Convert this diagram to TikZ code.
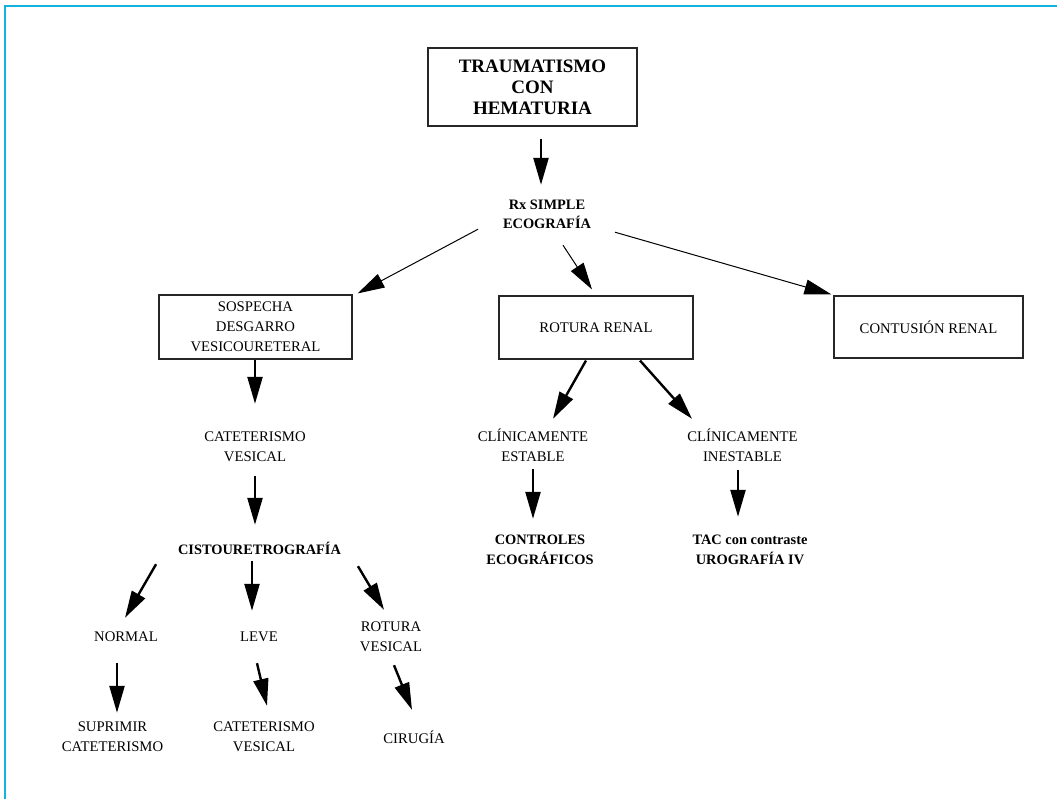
\documentclass[tikz,border=0pt]{standalone}
\usepackage{fontspec}
\setmainfont{Liberation Serif}
\usetikzlibrary{arrows.meta,calc}
\definecolor{framecyan}{RGB}{20,178,222}

\begin{document}
\begin{tikzpicture}[x=1pt,y=-1pt,
  bx/.style={draw=black!85,line width=1.1pt,inner sep=0pt,align=center,font=\fontsize{14.7}{20}\selectfont},
  lbl/.style={inner sep=0pt,minimum height=40pt,align=center,font=\fontsize{14.7}{20}\selectfont},
  blbl/.style={lbl,font=\bfseries\fontsize{14.4}{19.5}\selectfont},
  arr/.style={line width=2.4pt,-{Triangle[length=27pt,width=15pt]}},
  tarr/.style={line width=1pt,-{Triangle[length=27pt,width=15pt]}}]
\path[use as bounding box] (0,0) rectangle (1057,799);
\draw[framecyan,line width=2pt] (5,799) -- (5,6) -- (1057,6);

\node[bx,minimum width=209pt,minimum height=78pt,font=\bfseries\fontsize{19}{21}\selectfont] (trauma) at (532.5,87) {TRAUMATISMO\\CON\\HEMATURIA};
\node[blbl] (rx) at (547,214.5) {Rx SIMPLE\\ECOGRAFÍA};
\node[bx,minimum width=193pt,minimum height=64pt] (sospecha) at (255.5,327) {SOSPECHA\\DESGARRO\\VESICOURETERAL};
\node[bx,minimum width=194pt,minimum height=63pt] (rotura) at (596,327.5) {ROTURA RENAL};
\node[bx,minimum width=189pt,minimum height=62pt] (contusion) at (928.5,327) {CONTUSIÓN RENAL};

\node[lbl] (cateter) at (255,447) {CATETERISMO\\VESICAL};
\node[blbl] (cisto) at (259.5,548) {CISTOURETROGRAFÍA};
\node[lbl] (normal) at (126,637) {NORMAL};
\node[lbl] (leve) at (259,637) {LEVE};
\node[lbl] (rvesical) at (391,637) {ROTURA\\VESICAL};
\node[lbl] (suprimir) at (112.5,737) {SUPRIMIR\\CATETERISMO};
\node[lbl] (cateter2) at (264,737) {CATETERISMO\\VESICAL};
\node[lbl] (cirugia) at (414,737) {CIRUGÍA};

\node[lbl] (estable) at (533,445.5) {CLÍNICAMENTE\\ESTABLE};
\node[lbl] (inestable) at (742.5,445.5) {CLÍNICAMENTE\\INESTABLE};
\node[blbl] (controles) at (540,550) {CONTROLES\\ECOGRÁFICOS};
\node[blbl] (tac) at (750,550) {TAC con contraste\\UROGRAFÍA IV};

\draw[arr] ($(trauma.south)+(8.5,12)$) -- ($(rx.north)+(-6,-9.5)$);
\draw[tarr] ($(rx.south west)+(-24.75,-5.5)$) -- ($(sospecha.north east)+(5,-1)$);
\draw[tarr] ($(rx.south)+(16,10.5)$) -- ($(rotura.north)+(-4,-6)$);
\draw[tarr] ($(rx.south east)+(23.75,-2.5)$) -- ($(contusion.north west)+(-2,-1)$);

\draw[arr] ($(sospecha.south)+(-0.5,0)$) -- ($(cateter.north)+(0,-23)$);
\draw[arr] ($(cateter.south)+(0,9)$) -- ($(cisto.north)+(-4.5,-3)$);
\draw[arr] ($(cisto.south west)+(-21.75,-4)$) -- ($(normal.north)+(-1,1)$);
\draw[arr] ($(cisto.south)+(-7.5,-7)$) -- ($(leve.north)+(-7,-6)$);
\draw[arr] ($(cisto.south east)+(16.75,-2)$) -- ($(rvesical.north)+(-7,-7)$);
\draw[arr] ($(normal.south)+(-9,6)$) -- ($(suprimir.north)+(4.5,-4)$);
\draw[arr] ($(leve.south)+(-2,6)$) -- ($(cateter2.north)+(3,-11)$);
\draw[arr] ($(rvesical.south)+(3,8)$) -- ($(cirugia.north)+(-2,-7)$);

\draw[arr] ($(rotura.south)+(-10,1)$) -- ($(estable.north)+(20,-6.5)$);
\draw[arr] ($(rotura.south)+(44,1)$) -- ($(inestable.north)+(-50.5,-6.5)$);
\draw[arr] ($(estable.south)+(0,3.5)$) -- ($(controles.north)+(-7,-11)$);
\draw[arr] ($(inestable.south)+(-4.5,4.5)$) -- ($(tac.north)+(-12,-13)$);
\end{tikzpicture}
\end{document}
